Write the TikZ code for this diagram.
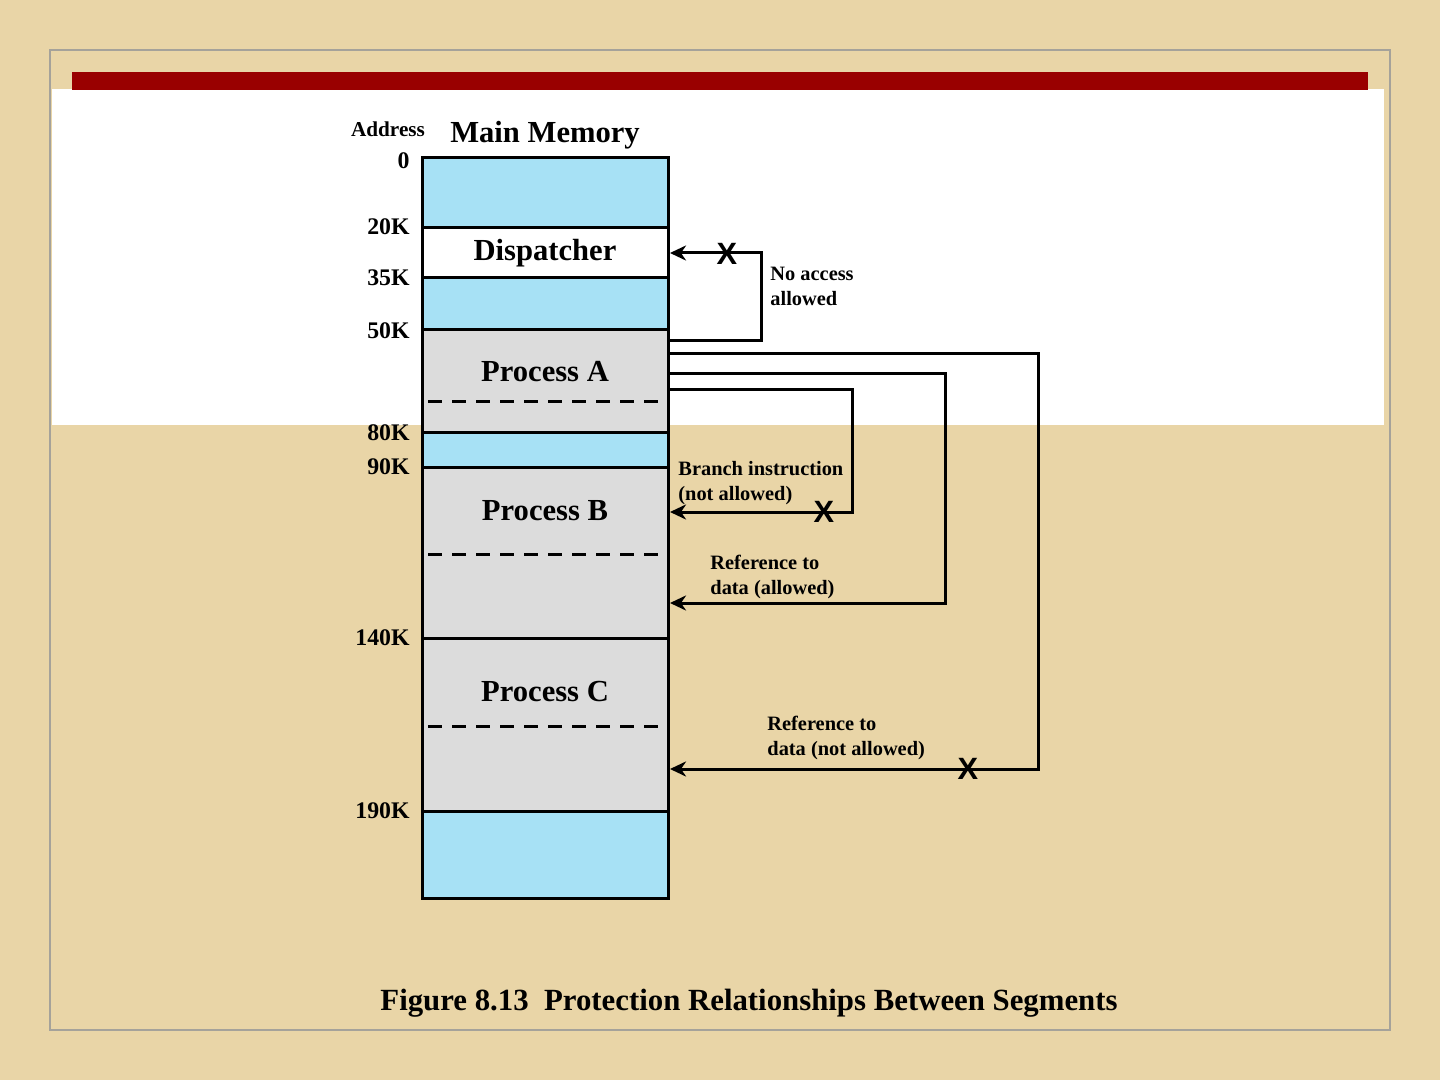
\documentclass[tikz,border=0pt]{standalone}
\usepackage{xcolor}
\usepackage{fontspec}
\setmainfont{Liberation Serif}
\newfontfamily\markfont{Liberation Sans}
\usetikzlibrary{arrows.meta,positioning}

\definecolor{parchment}{HTML}{E9D5A7}
\definecolor{framegray}{HTML}{A5A29A}
\definecolor{barred}{HTML}{990000}
\definecolor{freeblue}{HTML}{A7E1F5}
\definecolor{procgray}{HTML}{DCDCDC}

\tikzset{
  seg/.style={draw, line width=1.5pt, minimum width=123pt, inner sep=0pt,
              outer sep=0pt, font=\bfseries\fontsize{15.3}{18}\selectfont},
  procname/.style={font=\bfseries\fontsize{15.3}{18}\selectfont, inner sep=0pt},
  addr/.style={anchor=east, inner sep=0pt, font=\bfseries\fontsize{11.9}{14}\selectfont},
  note/.style={anchor=west, align=left, inner sep=0pt,
               font=\bfseries\fontsize{10.2}{12.5}\selectfont},
  conn/.style={line width=1.5pt, -{Stealth[length=8pt,width=7.5pt,inset=2.5pt]},
               shorten >=1pt},
  xmark/.style={inner sep=0pt, font=\markfont\bfseries\fontsize{15.4}{16}\selectfont},
  divider/.style={dash pattern=on 7pt off 5pt, line width=1.5pt}
}

\begin{document}
\begin{tikzpicture}[x=0.5pt, y=-0.5pt]
    % page
    \fill[parchment] (0,0) rectangle (1440,1080);
    \fill[white] (52,89) rectangle (1384,425);
    \draw[framegray, line width=1pt] (50,50) rectangle (1390,1030);
    \fill[barred] (72,72) rectangle (1368,90);
    \useasboundingbox (0,0) rectangle (1440,1080);

    % memory column
    \node[seg, fill=freeblue, anchor=north west, minimum height=35pt] (free0) at (422,158) {};
    \node[seg, fill=white, minimum height=25pt, below=0pt of free0] (disp) {Dispatcher};
    \node[seg, fill=freeblue, minimum height=26pt, below=0pt of disp] (free1) {};
    \node[seg, fill=procgray, minimum height=51.5pt, below=0pt of free1] (procA) {};
    \node[seg, fill=freeblue, minimum height=17pt, below=0pt of procA] (free2) {};
    \node[seg, fill=procgray, minimum height=85.5pt, below=0pt of free2] (procB) {};
    \node[seg, fill=procgray, minimum height=86.5pt, below=0pt of procB] (procC) {};
    \node[seg, fill=freeblue, minimum height=43.5pt, below=0pt of procC] (free3) {};

    \draw[divider] (428,402) -- (662,402);
    \draw[divider] (428,554) -- (662,554);
    \draw[divider] (428,726) -- (662,726);

    \node[procname] (nameA) at (545,372) {Process A};
    \node[procname] (nameB) at (545,511) {Process B};
    \node[procname] (nameC) at (545,692) {Process C};

    % headings and addresses
    \node[inner sep=0pt, font=\bfseries\fontsize{10.6}{12}\selectfont] (addrhead) at (388,129) {Address};
    \node[inner sep=0pt, font=\bfseries\fontsize{15.3}{18}\selectfont] (memhead) at (545,135) {Main Memory};
    \foreach \a/\y in {0/161, 20K/227, 35K/278, 50K/331, 80K/433, 90K/467, 140K/638, 190K/811}
      \node[addr] at (410,\y) {\a};

    % ends of the references
    \coordinate (outDisp) at (procA.east |- 0,341);
    \coordinate (outC)    at (procA.east |- 0,354);
    \coordinate (outBdat) at (procA.east |- 0,374);
    \coordinate (outBbr)  at (procA.east |- 0,390);
    \coordinate (inBbr)   at (procB.east |- 0,512);
    \coordinate (inBdat)  at (procB.east |- 0,603);
    \coordinate (inC)     at (procC.east |- 0,769);

    \draw[conn] (outDisp) -- ++(93,0) |- (disp.east);
    \draw[conn] (outC) -- ++(370,0) |- (inC);
    \draw[conn] (outBdat) -- ++(277,0) |- (inBdat);
    \draw[conn] (outBbr) -- ++(184,0) |- (inBbr);

    \node[xmark] (xDisp) at (727,254) {X};
    \node[xmark] (xBbr)  at (824,512) {X};
    \node[xmark] (xC)    at (968,769) {X};

    \node[note] (noteDisp) at (770,286) {No access\\allowed};
    \node[note] (noteBbr)  at (678,483) {Branch instruction\\(not allowed)};
    \node[note] (noteBdat) at (710,577) {Reference to\\data (allowed)};
    \node[note] (noteC)    at (767,738) {Reference to\\data (not allowed)};

    % caption
    \node[inner sep=0pt, font=\bfseries\fontsize{15.4}{18}\selectfont] (caption) at (749,1003)
      {Figure 8.13\ \ Protection Relationships Between Segments};
\end{tikzpicture}
\end{document}
